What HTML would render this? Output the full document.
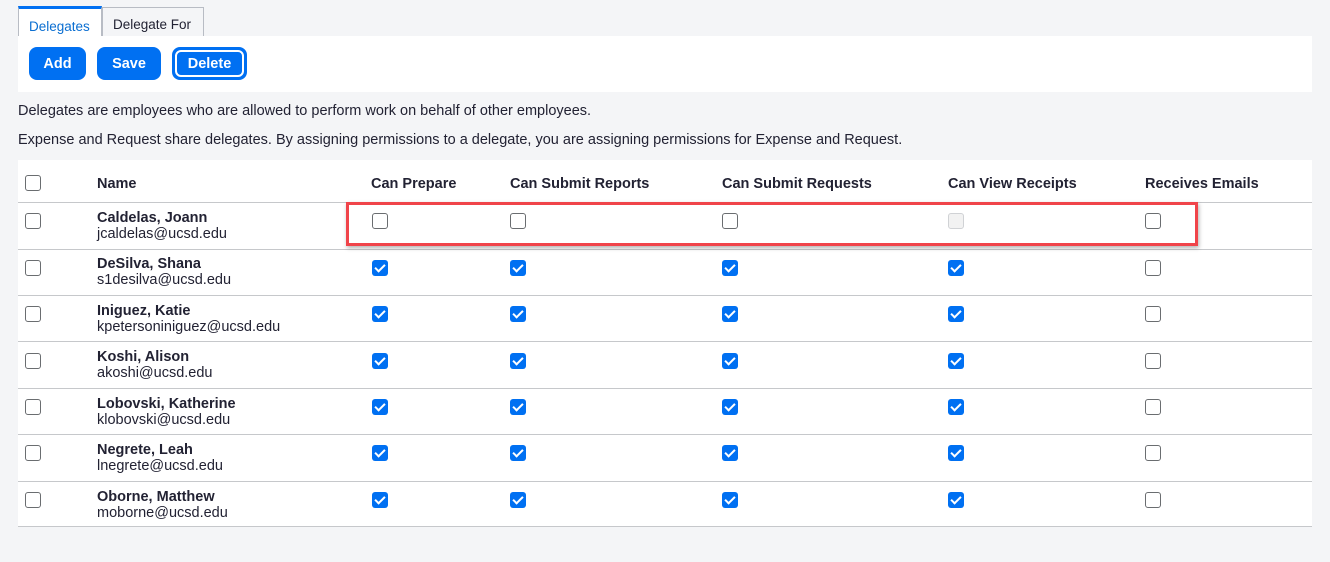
<!DOCTYPE html>
<html><head><meta charset="utf-8"><style>
*{box-sizing:border-box;margin:0;padding:0}
body{width:1330px;height:562px;background:#f4f5f7;font-family:"Liberation Sans",sans-serif;color:#223;position:relative;overflow:hidden}
.a{position:absolute}
.tab{position:absolute;top:7px;height:30px;border:1px solid #b8bcc4;border-bottom:none;background:#f4f5f7;font-size:13.5px;padding:9px 0 0 10px;color:#223}
.tab.on{top:6px;background:#fff;border-top:3px solid #0070f2;color:#0a6ed1;padding-top:10px}
.btn{position:absolute;top:47px;height:33px;background:#0070f2;color:#fff;font-weight:bold;font-size:14.5px;border-radius:8px;text-align:center;line-height:35px}
.cb{position:absolute;width:16px;height:16px;border:1.5px solid #6a6d70;border-radius:3px;background:#fff}
.ck{position:absolute;width:16px;height:16px;border-radius:3px;background:#0070f2}
.ck::after{content:"";position:absolute;left:5px;top:2px;width:4px;height:8px;border:solid #fff;border-width:0 2.5px 2.5px 0;transform:rotate(45deg)}
.dis{border-color:#d0d2d5;background:#f2f2f2}
.row{position:absolute;left:18px;width:1294px;height:46px;border-top:1px solid #c6c8cb}
.h{position:absolute;top:176px;font-size:14.5px;font-weight:bold;color:#223}
.nm{position:absolute;left:97px;font-size:14.5px;line-height:16px}
.nm b{display:block}
</style></head><body>
<div class="tab on" style="left:18px;width:84px">Delegates</div>
<div class="tab" style="left:102px;width:102px">Delegate For</div>
<div class="a" style="left:18px;top:36px;width:1294px;height:56px;background:#fff"></div>
<div class="btn" style="left:29px;width:57px">Add</div>
<div class="btn" style="left:97px;width:64px">Save</div>
<div class="btn" style="left:172px;width:75px;padding:3px"><div style="border:2px solid #fff;border-radius:6px;height:27px;line-height:25px">Delete</div></div>
<div class="a" style="left:18px;top:103px;font-size:14.5px">Delegates are employees who are allowed to perform work on behalf of other employees.</div>
<div class="a" style="left:18px;top:132px;font-size:14.5px">Expense and Request share delegates. By assigning permissions to a delegate, you are assigning permissions for Expense and Request.</div>
<div class="a" style="left:18px;top:160px;width:1294px;height:367px;background:#fff;border-bottom:1px solid #c6c8cb"></div>
<div class="cb" style="left:25px;top:175px"></div>
<div class="h" style="left:97px">Name</div>
<div class="h" style="left:371px">Can Prepare</div>
<div class="h" style="left:510px">Can Submit Reports</div>
<div class="h" style="left:722px">Can Submit Requests</div>
<div class="h" style="left:948px">Can View Receipts</div>
<div class="h" style="left:1145px">Receives Emails</div>

<div class="row" style="top:202px"></div>
<div class="cb" style="left:25px;top:213px"></div>
<div class="nm" style="top:210px"><b>Caldelas, Joann</b>jcaldelas@ucsd.edu</div>
<div class="cb" style="left:372px;top:213px"></div><div class="cb" style="left:510px;top:213px"></div><div class="cb" style="left:722px;top:213px"></div><div class="cb dis" style="left:948px;top:213px"></div><div class="cb" style="left:1145px;top:213px"></div>

<div class="row" style="top:249px"></div>
<div class="cb" style="left:25px;top:260px"></div>
<div class="nm" style="top:256px"><b>DeSilva, Shana</b>s1desilva@ucsd.edu</div>
<div class="ck" style="left:372px;top:260px"></div><div class="ck" style="left:510px;top:260px"></div><div class="ck" style="left:722px;top:260px"></div><div class="ck" style="left:948px;top:260px"></div><div class="cb" style="left:1145px;top:260px"></div>

<div class="row" style="top:295px"></div>
<div class="cb" style="left:25px;top:306px"></div>
<div class="nm" style="top:303px"><b>Iniguez, Katie</b>kpetersoniniguez@ucsd.edu</div>
<div class="ck" style="left:372px;top:306px"></div><div class="ck" style="left:510px;top:306px"></div><div class="ck" style="left:722px;top:306px"></div><div class="ck" style="left:948px;top:306px"></div><div class="cb" style="left:1145px;top:306px"></div>

<div class="row" style="top:341px"></div>
<div class="cb" style="left:25px;top:353px"></div>
<div class="nm" style="top:349px"><b>Koshi, Alison</b>akoshi@ucsd.edu</div>
<div class="ck" style="left:372px;top:353px"></div><div class="ck" style="left:510px;top:353px"></div><div class="ck" style="left:722px;top:353px"></div><div class="ck" style="left:948px;top:353px"></div><div class="cb" style="left:1145px;top:353px"></div>

<div class="row" style="top:388px"></div>
<div class="cb" style="left:25px;top:399px"></div>
<div class="nm" style="top:396px"><b>Lobovski, Katherine</b>klobovski@ucsd.edu</div>
<div class="ck" style="left:372px;top:399px"></div><div class="ck" style="left:510px;top:399px"></div><div class="ck" style="left:722px;top:399px"></div><div class="ck" style="left:948px;top:399px"></div><div class="cb" style="left:1145px;top:399px"></div>

<div class="row" style="top:434px"></div>
<div class="cb" style="left:25px;top:445px"></div>
<div class="nm" style="top:442px"><b>Negrete, Leah</b>lnegrete@ucsd.edu</div>
<div class="ck" style="left:372px;top:445px"></div><div class="ck" style="left:510px;top:445px"></div><div class="ck" style="left:722px;top:445px"></div><div class="ck" style="left:948px;top:445px"></div><div class="cb" style="left:1145px;top:445px"></div>

<div class="row" style="top:481px"></div>
<div class="cb" style="left:25px;top:492px"></div>
<div class="nm" style="top:489px"><b>Oborne, Matthew</b>moborne@ucsd.edu</div>
<div class="ck" style="left:372px;top:492px"></div><div class="ck" style="left:510px;top:492px"></div><div class="ck" style="left:722px;top:492px"></div><div class="ck" style="left:948px;top:492px"></div><div class="cb" style="left:1145px;top:492px"></div>

<div class="a" style="left:346px;top:202px;width:852px;height:44px;border:3px solid #f0444a;box-shadow:1px 2px 4px rgba(0,0,0,.3)"></div>
</body></html>
